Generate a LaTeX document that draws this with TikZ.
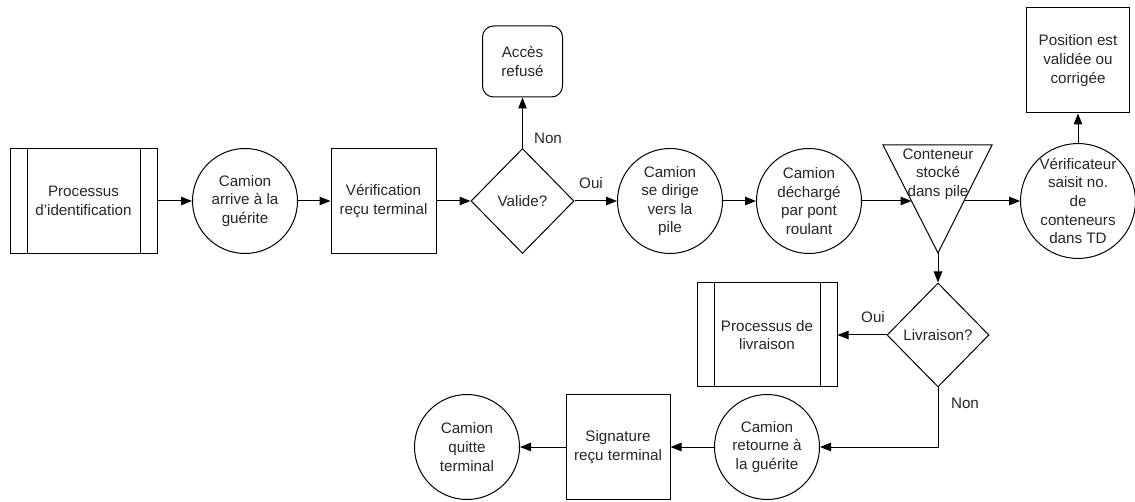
\documentclass[tikz,border=0pt]{standalone}
\usepackage{fontspec}
\setmainfont{Liberation Sans}
\usetikzlibrary{shapes.geometric,arrows.meta}
\begin{document}
\begin{tikzpicture}[x=1pt,y=-1pt,
  txt/.style={font=\fontsize{15.2pt}{18.6pt}\selectfont, text=black!85, align=center},
  base/.style={txt, draw, line width=1pt, inner sep=0pt},
  etat/.style={base, circle, minimum size=105pt},
  tache/.style={base, rectangle, minimum width=#1, minimum height=105pt},
  tache/.default=105pt,
  sousproc/.style={tache=#1, path picture={
      \draw[line width=1pt]
        ([xshift=17pt]path picture bounding box.north west) -- ([xshift=17pt]path picture bounding box.south west)
        ([xshift=-17pt]path picture bounding box.north east) -- ([xshift=-17pt]path picture bounding box.south east);}},
  decision/.style={base, diamond, minimum width=103pt, minimum height=105pt},
  arrondi/.style={base, rectangle, rounded corners=11pt, minimum width=80pt, minimum height=71pt},
  lbl/.style={txt, inner sep=1pt},
  fleche/.style={line width=1pt, -{Triangle[length=11pt,width=8.5pt]}}
]
\useasboundingbox (0,0) rectangle (1135,502);

% main flow
\node[sousproc=147pt] (ident) at (83.5,201) {Processus\\d\symbol{39}identification};
\node[etat] (arrive) at (245,201) {Camion\\arrive à la\\guérite};
\node[tache] (verif) at (383.5,201) {Vérification\\reçu terminal};
\node[decision] (valide) at (522.5,201) {Valide?};
\node[arrondi] (refus) at (522.5,61.5) {Accès\\refusé};
\node[etat] (dirige) at (670,201) {Camion\\se dirige\\vers la\\pile};
\node[etat] (decharge) at (809,201) {Camion\\déchargé\\par pont\\roulant};

% storage triangle
\coordinate (tl) at (883,145);
\coordinate (tr) at (992,145);
\coordinate (tap) at (938,253);
\draw[line width=1pt, line join=miter] (tl) -- (tr) -- (tap) -- cycle;
\node[txt, inner sep=0pt] (stock) at (938,174) {Conteneur\\stocké\\dans pile};
\coordinate (tin) at (911.5,201);
\coordinate (tout) at (964,201);

\node[etat] (saisit) at (1078,201) {Vérificateur\\saisit no.\\de\\conteneurs\\dans TD};
\node[tache=103pt] (position) at (1078,60.5) {Position est\\validée ou\\corrigée};

% delivery branch
\node[decision, minimum width=102pt, minimum height=104pt] (livr) at (938,335) {Livraison?};
\node[sousproc=140pt, minimum height=104pt] (plivr) at (767,335) {Processus de\\livraison};
\node[etat] (retour) at (767,447) {Camion\\retourne à\\la guérite};
\node[tache=104pt, minimum height=104pt] (sign) at (618,447) {Signature\\reçu terminal};
\node[etat] (quitte) at (467,447) {Camion\\quitte\\terminal};

% labels
\node[lbl] (oui1) at (591,183) {Oui};
\node[lbl] (non1) at (548,138) {Non};
\node[lbl] (oui2) at (873,317) {Oui};
\node[lbl] (non2) at (965,403) {Non};

% connectors
\draw[fleche] (ident.east) -- (arrive.west);
\draw[fleche] (arrive.east) -- (verif.west);
\draw[fleche] (verif.east) -- (valide.west);
\draw[fleche] (valide.north) -- (refus.south);
\draw[fleche] (valide.east) -- (dirige.west);
\draw[fleche] (dirige.east) -- (decharge.west);
\draw[fleche] (decharge.east) -- (tin);
\draw[fleche] (tout) -- (saisit.west);
\draw[fleche] (saisit.north) -- (position.south);
\draw[fleche] (tap) -- (livr.north);
\draw[fleche] (livr.west) -- (plivr.east);
\draw[fleche] (livr.south) |- (retour.east);
\draw[fleche] (retour.west) -- (sign.east);
\draw[fleche] (sign.west) -- (quitte.east);
\end{tikzpicture}
\end{document}
